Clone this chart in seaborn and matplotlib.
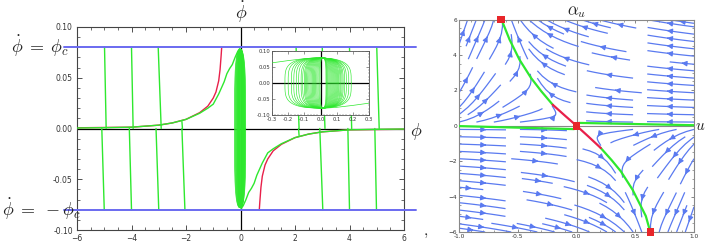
import numpy as np
import pandas as pd
import matplotlib
matplotlib.use('Agg')
import matplotlib.pyplot as plt
import seaborn as sns
from matplotlib.ticker import MultipleLocator, FormatStrFormatter

sns.set_theme(style='ticks')
plt.rcParams['font.family'] = ['DejaVu Sans']
plt.rcParams['mathtext.fontset'] = 'cm'

# ---------------- data: left panel (phi, phi_dot) ----------------
PHI_C = 0.08
# red separatrix, upper-left branch (lower-right branch is point mirrored)
red_x = [-6.0, -5.0, -4.0, -3.0, -2.5, -2.0, -1.5, -1.2, -1.0, -0.9, -0.8, -0.75, -0.71, -0.69]
red_y = [0.0007, 0.001, 0.0013, 0.0033, 0.0055, 0.009, 0.0156, 0.022, 0.030, 0.036, 0.047, 0.058, 0.072, 0.080]
# green trajectory, upper-left branch
green_x = [-6.0, -5.0, -4.0, -3.0, -2.5, -2.0, -1.5, -1.2, -1.0, -0.8, -0.6, -0.5, -0.4, -0.3, -0.2, -0.1, -0.02]
green_y = [0.0005, 0.0008, 0.0013, 0.0033, 0.0055, 0.009, 0.0150, 0.020, 0.024, 0.034, 0.046, 0.054, 0.059, 0.063, 0.070, 0.076, 0.079]
# near-vertical green trajectories (left side; right side mirrored)
up_top_x = [-4.99, -4.00, -3.02]      # at phi_dot = phi_c
up_bot_x = [-4.93, -3.94, -2.91]      # at phi_dot = 0
short_x = [-2.15, -2.13]
short_y = [0.007, 0.0]
lo_top_x = [-5.09, -4.08, -3.10, -2.15]   # at phi_dot = 0
lo_bot_x = [-5.00, -4.00, -3.00, -2.04]   # at phi_dot = -phi_c
# closed orbits around the origin: left / right extents
orbit_left = [-0.22, -0.20, -0.18, -0.165, -0.15, -0.135, -0.12, -0.11, -0.10, -0.093, -0.086, -0.079,
              -0.072, -0.065, -0.058, -0.051, -0.044, -0.037, -0.030, -0.023, -0.016, -0.009, -0.003]
orbit_right = [0.19, 0.175, 0.16, 0.15, 0.14, 0.133, 0.126, 0.12, 0.113, 0.107, 0.101, 0.095,
               0.089, 0.083, 0.077, 0.071, 0.065, 0.059, 0.053, 0.047, 0.042, 0.038, 0.034]
orbit_height = 0.078

# ---------------- data: right panel (u, alpha_u) ----------------
sep_up_u = [0.0, -0.10, -0.203]
sep_up_a = [0.0, 0.58, 1.19]
sep_up_green_u = [-0.203, -0.30, -0.387, -0.486, -0.57, -0.627, -0.64]
sep_up_green_a = [1.19, 1.95, 2.70, 3.74, 4.87, 5.81, 6.0]
sep_lo_u = [0.0, 0.10, 0.207]
sep_lo_a = [0.0, -0.60, -1.26]
sep_lo_green_u = [0.207, 0.30, 0.378, 0.477, 0.59, 0.628]
sep_lo_green_a = [-1.26, -1.95, -2.58, -3.61, -5.1, -6.0]
flat_left_u = [-1.0, -0.02]
flat_left_a = [-0.02, -0.19]
flat_right_u = [0.02, 1.0]
flat_right_a = [0.16, 0.03]
crit_u = [0.0, -0.64, 0.63]
crit_a = [0.0, 6.0, -6.0]

GREEN = '#2ee82e'
RED = '#e8204a'
BLUE_LINE = '#6a6af0'
STREAM = '#5a7af0'

W, H = 706, 246
fig = plt.figure(figsize=(W / 100, H / 100), dpi=100)

def px(x0, y0, w, h):
    return [x0 / W, 1 - (y0 + h) / H, w / W, h / H]

ax = fig.add_axes(px(77, 27, 327, 203))
axi = fig.add_axes(px(272, 51, 97, 64))
axr = fig.add_axes(px(459, 19.5, 235, 212.5))

# build orbit frame
t = np.linspace(0, 2 * np.pi, 240)
rows = []
for i, (l, r) in enumerate(zip(orbit_left, orbit_right)):
    cx, hw = (l + r) / 2, (r - l) / 2
    xs = cx + hw * np.sign(np.cos(t)) * np.abs(np.cos(t)) ** 0.8
    ys = orbit_height * np.sign(np.sin(t)) * np.abs(np.sin(t)) ** 0.5
    rows.append(pd.DataFrame({'x': xs, 'y': ys, 'id': i}))
orbits = pd.concat(rows)

def draw_phase(a, lw_orb, lw):
    a.axhline(0, color='black', lw=0.9, zorder=1)
    a.axvline(0, color='black', lw=0.9, zorder=1)
    sns.lineplot(data=orbits, x='x', y='y', units='id', estimator=None, sort=False,
                 color=GREEN, lw=lw_orb, ax=a, zorder=3)
    gx = np.array(green_x); gy = np.array(green_y)
    rx = np.array(red_x); ry = np.array(red_y)
    sns.lineplot(x=gx, y=gy, sort=False, color=GREEN, lw=lw, ax=a, zorder=3)
    sns.lineplot(x=-gx, y=-gy, sort=False, color=GREEN, lw=lw, ax=a, zorder=3)
    sns.lineplot(x=rx, y=ry, sort=False, color=RED, lw=lw, ax=a, zorder=2)
    sns.lineplot(x=-rx, y=-ry, sort=False, color=RED, lw=lw, ax=a, zorder=2)
    for xt, xb in zip(up_top_x, up_bot_x):
        for s in (1, -1):
            sns.lineplot(x=[s * xt, s * xb], y=[s * PHI_C, 0.0], sort=False, color=GREEN, lw=lw, ax=a, zorder=3)
    for xt, xb in zip(lo_top_x, lo_bot_x):
        for s in (1, -1):
            sns.lineplot(x=[s * xt, s * xb], y=[0.0, -s * PHI_C], sort=False, color=GREEN, lw=lw, ax=a, zorder=3)
    for s in (1, -1):
        sns.lineplot(x=[s * v for v in short_x], y=[s * v for v in short_y], sort=False,
                     color=GREEN, lw=lw, ax=a, zorder=3)

draw_phase(ax, 0.5, 1.0)
for yv in (PHI_C, -PHI_C):
    ax.plot([-0.04, 1.036], [yv, yv], transform=ax.get_yaxis_transform(), color=BLUE_LINE,
            lw=1.4, clip_on=False, zorder=4)
ax.set_xlim(-6, 6)
ax.set_ylim(-0.1, 0.1)
ax.set_xticks([-6, -4, -2, 0, 2, 4, 6])
ax.set_yticks([-0.10, -0.05, 0.0, 0.05, 0.10])
ax.yaxis.set_major_formatter(FormatStrFormatter('%.2f'))
ax.xaxis.set_minor_locator(MultipleLocator(0.5))
ax.yaxis.set_minor_locator(MultipleLocator(0.01))
ax.tick_params(which='both', direction='in', top=True, right=True, labelsize=5.5, pad=3,
               color='#333333', labelcolor='#333333')
ax.tick_params(which='major', length=3.5, width=0.6)
ax.tick_params(which='minor', length=2, width=0.5)
ax.set_xlabel(''); ax.set_ylabel('')
for sp in ax.spines.values():
    sp.set_color('#444444'); sp.set_linewidth(0.8)

# inset
axi.set_facecolor('white')
draw_phase(axi, 0.45, 0.5)
axi.set_xlim(-0.3, 0.3)
axi.set_ylim(-0.1, 0.1)
axi.set_xticks([-0.3, -0.2, -0.1, 0.0, 0.1, 0.2, 0.3])
axi.set_yticks([-0.10, -0.05, 0.0, 0.05, 0.10])
axi.xaxis.set_major_formatter(FormatStrFormatter('%.1f'))
axi.yaxis.set_major_formatter(FormatStrFormatter('%.2f'))
axi.xaxis.set_minor_locator(MultipleLocator(0.02))
axi.yaxis.set_minor_locator(MultipleLocator(0.01))
axi.tick_params(which='both', direction='in', top=True, right=True, labelsize=3.8, pad=1.2,
                color='#444444', labelcolor='#333333')
axi.tick_params(which='major', length=2, width=0.4)
axi.tick_params(which='minor', length=1, width=0.3)
axi.set_xlabel(''); axi.set_ylabel('')
for sp in axi.spines.values():
    sp.set_color('#555555'); sp.set_linewidth(0.6)

# ---------------- right panel ----------------
gu = np.linspace(-1, 1, 80)
ga = np.linspace(-6, 6, 80)
U, A = np.meshgrid(gu, ga)
curve = -0.64 * np.sign(A) * np.abs(A / 6) ** 0.6
du = curve - U
side = np.sign(A) * (curve - U)
da = A * (0.25 + 8 * np.clip(side, 0, None) ** 2)
axr.axhline(0, color='#888888', lw=0.8, zorder=1)
axr.axvline(0, color='#888888', lw=0.8, zorder=1)
skw = dict(density=(0.95, 1.0), color=STREAM, linewidth=0.9, arrowsize=0.75,
           maxlength=0.45, zorder=2)
try:
    axr.streamplot(U, A, du, da, num_arrows=3, **skw)
except TypeError:
    axr.streamplot(U, A, du, da, **skw)
sns.lineplot(x=flat_left_u, y=flat_left_a, sort=False, color=GREEN, lw=1.6, ax=axr, zorder=3)
sns.lineplot(x=flat_right_u, y=flat_right_a, sort=False, color=GREEN, lw=1.6, ax=axr, zorder=3)
sns.lineplot(x=sep_up_green_u, y=sep_up_green_a, sort=False, color=GREEN, lw=1.6, ax=axr, zorder=3)
sns.lineplot(x=sep_lo_green_u, y=sep_lo_green_a, sort=False, color=GREEN, lw=1.6, ax=axr, zorder=3)
sns.lineplot(x=sep_up_u, y=sep_up_a, sort=False, color=RED, lw=1.6, ax=axr, zorder=3)
sns.lineplot(x=sep_lo_u, y=sep_lo_a, sort=False, color=RED, lw=1.6, ax=axr, zorder=3)
sc = sns.scatterplot(x=crit_u, y=crit_a, marker='s', s=30, color='#e8262a', edgecolor='none',
                     ax=axr, zorder=5, clip_on=False)
axr.set_xlim(-1, 1)
axr.set_ylim(-6, 6)
axr.set_xticks([-1.0, -0.5, 0.0, 0.5, 1.0])
axr.set_yticks([-6, -4, -2, 0, 2, 4, 6])
axr.xaxis.set_major_formatter(FormatStrFormatter('%.1f'))
axr.xaxis.set_minor_locator(MultipleLocator(0.1))
axr.yaxis.set_minor_locator(MultipleLocator(0.5))
axr.tick_params(which='both', direction='in', top=True, right=True, labelsize=4.2, pad=1.5,
                color='#555555', labelcolor='#333333')
axr.tick_params(which='major', length=2.5, width=0.5)
axr.tick_params(which='minor', length=1.3, width=0.4)
axr.set_xlabel(''); axr.set_ylabel('')
for sp in axr.spines.values():
    sp.set_color('#888888'); sp.set_linewidth(0.8)

# ---------------- texts ----------------
def ftext(x, y, s, size, ha='center', va='center'):
    fig.text(x / W, 1 - y / H, s, fontsize=size, ha=ha, va=va, color='#222222')

ftext(11, 46, r'$\dot{\phi}\;=\;\phi_c$', 13, ha='left')
ftext(2, 209, r'$\dot{\phi}\;=\;-\phi_c$', 13, ha='left')
ftext(241, 12, r'$\dot{\phi}$', 13)
ftext(416, 131, r'$\phi$', 13)
ftext(577, 11, r'$\alpha_u$', 12)
ftext(700, 125, r'$u$', 11)
ftext(426, 232, r'$,$', 11)

fig.savefig('out.png', dpi=100)
